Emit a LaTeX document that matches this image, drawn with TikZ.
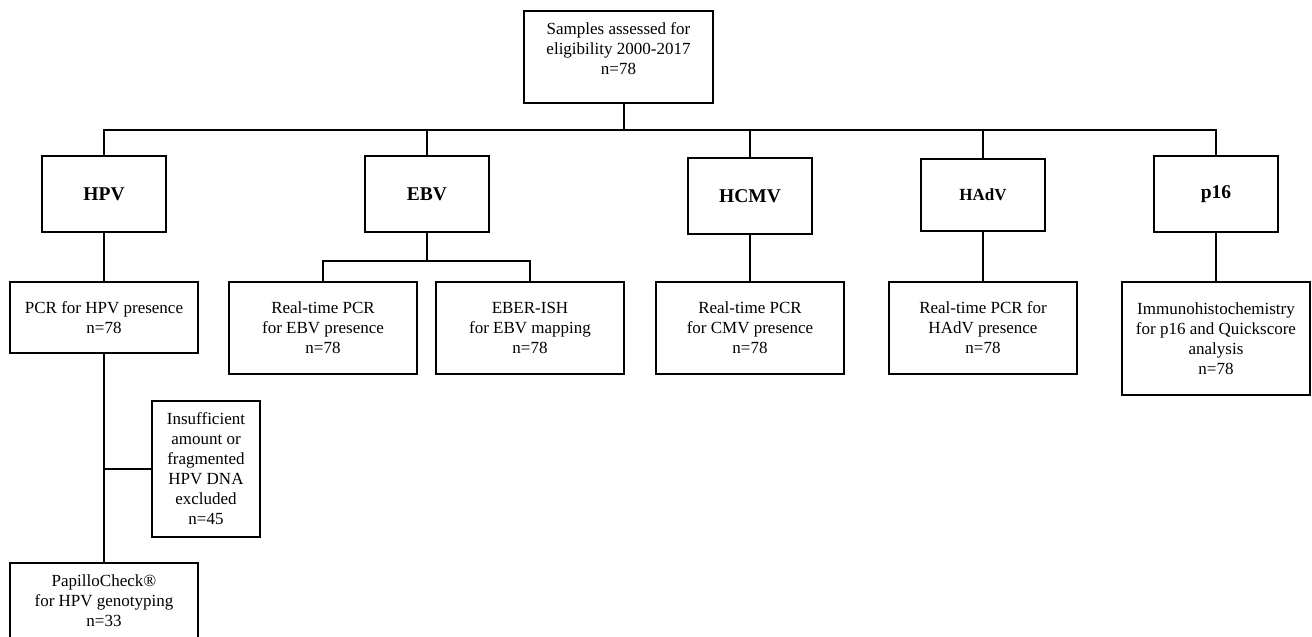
\documentclass[tikz,border=0pt]{standalone}
\usepackage{fontspec}
\setmainfont{Liberation Serif}

\begin{document}
\begin{tikzpicture}[x=1pt,y=-1pt,
  box/.style={draw=black,line width=1.7pt,align=center,inner sep=0pt,font=\fontsize{17}{20}\selectfont},
  virus/.style={box,minimum width=124pt,minimum height=76pt,font=\fontsize{19.5}{23}\selectfont\bfseries},
  test/.style={box,minimum width=188pt,minimum height=92pt}]

\useasboundingbox (0,0) rectangle (1312,637);
\clip (0,0) rectangle (1312,637);

%samples
\node[box,minimum width=189pt,minimum height=92pt] (samples) at (618.5,57) {};
\node[align=center,inner sep=0pt,font=\fontsize{17}{20}\selectfont] (samplestxt) at (618.5,49) {Samples assessed for\\eligibility 2000-2017\\n=78};
\coordinate (bus) at (624,131);

%viruses
\node[virus] (hpv) at (104,194) {HPV};
\node[virus] (ebv) at (427,194) {EBV};
\node[virus] (hcmv) at (750,196) {HCMV};
\node[virus,minimum height=72pt,font=\fontsize{17}{20}\selectfont\bfseries] (hadv) at (983,195) {HAdV};
\node[virus] (p16) at (1216,194) {p16};

\path[draw=black,line width=1.7pt] (bus |- samples.south) -- (bus);
\path[draw=black,line width=1.7pt] (hpv.north) -- ++(0,-25) -| (p16.north);
\path[draw=black,line width=1.7pt] (ebv.north) -- (ebv.north |- bus);
\path[draw=black,line width=1.7pt] (hcmv.north) -- (hcmv.north |- bus);
\path[draw=black,line width=1.7pt] (hadv.north) -- (hadv.north |- bus);

%hpv
\node[test,minimum height=71pt] (pcr) at (104,317.5) {PCR for HPV presence\\n=78};
\node[box,minimum width=108pt,minimum height=136pt] (excl) at (206,469) {Insufficient\\amount or\\fragmented\\HPV DNA\\excluded\\n=45};
\node[test,minimum height=76pt] (papillo) at (104,601) {PapilloCheck®\\for HPV genotyping\\n=33};
\path[draw=black,line width=1.7pt] (hpv.south) -- (pcr.north);
\path[draw=black,line width=1.7pt] (pcr.south) -- (papillo.north);
\path[draw=black,line width=1.7pt] (excl.west) -- (excl.west -| pcr.south);

%ebv
\node[test] (rtebv) at (323,328) {Real-time PCR\\for EBV presence\\n=78};
\node[test] (eber) at (530,328) {EBER-ISH\\for EBV mapping\\n=78};
\coordinate (ebvsplit) at (427,261);
\path[draw=black,line width=1.7pt] (ebv.south) -- (ebvsplit);
\path[draw=black,line width=1.7pt] (rtebv.north) |- (ebvsplit) -| (eber.north);

%hcmv
\node[test] (rtcmv) at (750,328) {Real-time PCR\\for CMV presence\\n=78};
\path[draw=black,line width=1.7pt] (hcmv.south) -- (rtcmv.north);

%hadv
\node[test] (rthadv) at (983,328) {Real-time PCR for\\HAdV presence\\n=78};
\path[draw=black,line width=1.7pt] (hadv.south) -- (rthadv.north);

%p16
\node[test,minimum height=113pt] (ihc) at (1216,338.5) {Immunohistochemistry\\for p16 and Quickscore\\analysis\\n=78};
\path[draw=black,line width=1.7pt] (p16.south) -- (ihc.north);

\end{tikzpicture}
\end{document}
